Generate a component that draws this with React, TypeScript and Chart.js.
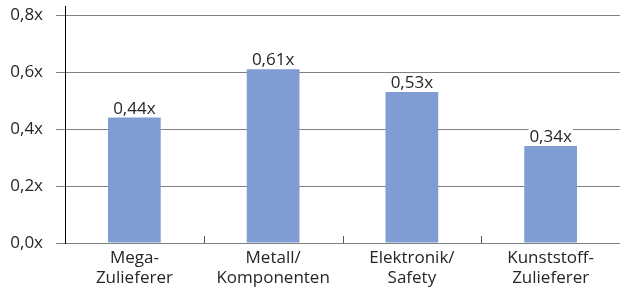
import React, { useEffect, useRef } from "react";
import { Chart, registerables } from "chart.js";

Chart.register(...registerables);

const categories: string[][] = [
  ["Mega-", "Zulieferer"],
  ["Metall/", "Komponenten"],
  ["Elektronik/", "Safety"],
  ["Kunststoff-", "Zulieferer"],
];
const values: number[] = [0.44, 0.61, 0.53, 0.34];
const yTicks: number[] = [0, 0.2, 0.4, 0.6, 0.8];
const yMax = 0.8316;

const fmt = (v: number, d: number) => v.toFixed(d).replace(".", ",") + "x";

const FONT = "'Open Sans', sans-serif";
const FS = 17;

const extras = {
  id: "extras",
  afterDatasetsDraw(chart: any) {
    const ctx = chart.ctx;
    const xs = chart.scales.x;
    const area = chart.chartArea;
    ctx.save();
    ctx.strokeStyle = "#595959";
    ctx.lineWidth = 1;
    for (let i = 1; i < values.length; i++) {
      const x = Math.round((xs.getPixelForValue(i - 1) + xs.getPixelForValue(i)) / 2) + 0.5;
      ctx.beginPath();
      ctx.moveTo(x, area.bottom);
      ctx.lineTo(x, area.bottom - 7);
      ctx.stroke();
    }
    ctx.font = `${FS}px ${FONT}`;
    ctx.textAlign = "center";
    ctx.textBaseline = "alphabetic";
    const meta = chart.getDatasetMeta(0);
    meta.data.forEach((bar: any, i: number) => {
      const t = fmt(values[i], 2);
      const w = ctx.measureText(t).width;
      const base = bar.y - 4;
      ctx.fillStyle = "#ffffff";
      ctx.fillRect(bar.x - w / 2 - 1, base - 14, w + 2, 17);
      ctx.fillStyle = "#262626";
      ctx.fillText(t, bar.x, base);
    });
    ctx.restore();
  },
};

export default function App() {
  const ref = useRef<HTMLCanvasElement>(null);
  useEffect(() => {
    document.body.style.margin = "0";
    const chart = new Chart(ref.current!, {
      type: "bar",
      data: {
        labels: categories,
        datasets: [
          {
            data: values,
            backgroundColor: "#7F9DD3",
            categoryPercentage: 1,
            barPercentage: 0.38,
          },
        ],
      },
      options: {
        animation: false,
        responsive: false,
        layout: { padding: { top: 6, left: 0, right: 0, bottom: 0 } },
        plugins: { legend: { display: false }, tooltip: { enabled: false } },
        scales: {
          x: {
            offset: true,
            grid: { display: false, drawTicks: false },
            border: { display: true, color: "#7f7f7f", width: 1 },
            afterFit: (s: any) => {
              s.height = 50;
              s.paddingLeft = 0;
              s.paddingRight = 0;
            },
            ticks: {
              color: "#262626",
              font: { family: FONT, size: FS, lineHeight: 1.2 },
              padding: 5,
              maxRotation: 0,
            },
          },
          y: {
            min: 0,
            max: yMax,
            afterBuildTicks: (s: any) => {
              s.ticks = yTicks.map((v) => ({ value: v }));
            },
            afterFit: (s: any) => {
              s.width = 65;
              s.paddingTop = 0;
              s.paddingBottom = 0;
            },
            grid: { color: "#7f7f7f", tickLength: 9, lineWidth: 1 },
            border: { display: true, color: "#000000", width: 1 },
            ticks: {
              color: "#262626",
              font: { family: FONT, size: FS, lineHeight: 1.2 },
              padding: 13,
              callback: (v: any) => fmt(Number(v), 1),
            },
          },
        },
      },
      plugins: [extras],
    });
    return () => chart.destroy();
  }, []);
  return (
    <div style={{ width: 620, height: 293 }}>
      <canvas ref={ref} width={620} height={293} />
    </div>
  );
}
